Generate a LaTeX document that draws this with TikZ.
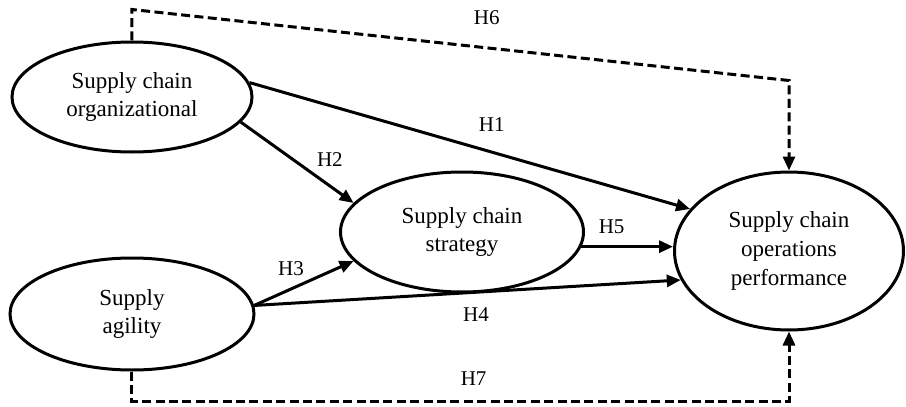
\documentclass[tikz,border=0pt]{standalone}
\usepackage{fontspec}
\setmainfont{Liberation Serif}
\usetikzlibrary{shapes.geometric,arrows.meta,positioning}

\begin{document}
\begin{tikzpicture}[>={Triangle[length=7pt,width=6pt]}, on grid, line width=1.5pt,
    var/.style={ellipse, draw, inner sep=0pt, align=center, font=\fontsize{11.5}{14.4}\selectfont},
    hyp/.style={font=\fontsize{10.5}{12}\selectfont, inner sep=1pt},
    link/.style={dash pattern=on 4.5pt off 2.2pt}]
    \useasboundingbox (-66pt,48.5pt) rectangle (387pt,-155pt);

    \node[var, minimum width=120pt, minimum height=55pt] (org) {Supply chain\\organizational};
    \node[var, minimum width=121.5pt, minimum height=60pt] (strat) [below right=67.5pt and 165pt of org] {Supply chain\\strategy};
    \node[var, minimum width=122pt, minimum height=56pt] (agil) [below=108.5pt of org] {Supply\\agility};
    \node[var, minimum width=114.5pt, minimum height=79pt] (perf) [below right=9.5pt and 163.5pt of strat] {Supply chain\\operations\\performance};

    \coordinate[above=15.5pt of org.north] (h6l);
    \coordinate[above=45pt of perf.north] (h6r);
    \coordinate[below=15pt of agil.south] (h7l);
    \coordinate[below=35pt of perf.south] (h7r);

    \path[->]
    (org.7) edge node[hyp, pos=.55, above=8.7pt] {H1} (perf.157)
    (org.-13) edge node[hyp, pos=.79, above=8pt] {H2} (strat.165)
    (agil.4) edge node[hyp, pos=.37, above=4.7pt] {H3} (strat.195)
    (agil.4) edge node[hyp, pos=.52, below=6pt] {H4} (perf.195)
    (strat.-7) edge node[hyp, pos=.33, above=4.7pt] {H5} (strat.-7 -| perf.west);

    \draw[link, ->] (org.north) -- (h6l) -- node[hyp, pos=.54, above=9.7pt] {H6} (h6r) -- (perf.north);
    \draw[link, ->] (agil.south) -- (h7l) -- node[hyp, pos=.52, above=6.2pt] {H7} (h7r) -- (perf.south);
\end{tikzpicture}
\end{document}
